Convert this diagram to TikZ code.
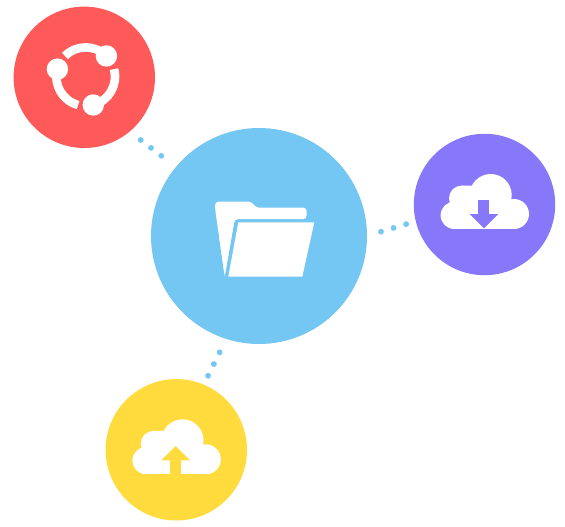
\documentclass[tikz,border=0pt]{standalone}
\usetikzlibrary{calc}
\definecolor{cblue}{HTML}{74C7F2}
\definecolor{cred}{HTML}{FF5A5A}
\definecolor{cpurple}{HTML}{8778FA}
\definecolor{cyellow}{HTML}{FFDB3D}
\tikzset{
  disc/.style={circle,inner sep=0pt,outer sep=0pt,minimum size=#1},
  dotline/.style={cblue,line width=5.8pt,line cap=round,dash pattern=on 0.01pt off #1},
  ringarc/.style={white,line width=8.6pt},
  cloudicon/.pic={
    \fill[white] (29.5,9.5) circle[radius=15pt];
    \fill[white] (-30.2,10.8) circle[radius=13.7pt];
    \fill[white] (-22.8,-6.2) circle[radius=12.7pt];
    \fill[white] (6.2,-9.5) circle[radius=21pt];
    \fill[white] (-30,0) rectangle (29.5,24.5);
    \fill[white] (-22.8,-18.9) -- (-12,-18.9) -- (6,-9) -- (27,-5.5) -- (27,1) -- (-22.8,1) -- cycle;
  }
}
\begin{document}
\begin{tikzpicture}[x=1pt,y=-1pt]
\useasboundingbox (0,0) rectangle (565,527);
% discs
\node[disc=141.4pt,fill=cred] (red) at (84.3,77.3) {};
\node[disc=216pt,fill=cblue] (folder) at (259,236) {};
\node[disc=141.4pt,fill=cpurple] (down) at (484.5,204.5) {};
\node[disc=141.4pt,fill=cyellow] (up) at (176.3,449.8) {};
% dotted connectors
\coordinate (ra) at (140.7,140);
\coordinate (rb) at (161.5,156);
\coordinate (da) at (381,231.7);
\coordinate (db) at (406.5,224);
\coordinate (ua) at (219.7,352.3);
\coordinate (ub) at (208,375.9);
\draw[dotline=12.95pt] (ra) -- (rb);
\draw[dotline=13.1pt] (da) -- (db);
\draw[dotline=13.1pt] (ua) -- (ub);
% ring icon
\coordinate (rc) at (85.7,76.7);
\foreach \a in {15,135,255}{
  \draw[ringarc] ($(rc)+(\a:29.3pt)$) arc[start angle=\a,end angle=\a-90,radius=29.3pt];
  \fill[white] ($(rc)+(\a-90:29.3pt)$) circle[radius=10.7pt];
}
% folder icon
\fill[white,rounded corners=3.5pt] (224.7,276) -- (215,208) -- (215,201.7) -- (252,201.7) -- (255.7,207.7)
   -- (306.7,207.7) -- (306.7,219) -- (234.7,219) -- cycle;
\fill[white] (224.7,276) -- (219,236) -- (234.7,219) -- cycle;
\fill[white] (238.3,222.3) -- (314.3,222.3) -- (302.3,276.7) -- (228.3,276.7) -- cycle;
% clouds
\pic at (down) {cloudicon};
\fill[cpurple] (478.3,200) rectangle (489.3,214.5);
\fill[cpurple] (469.7,214) -- (498.3,214) -- (484,228.3) -- cycle;
\pic at (up) {cloudicon};
\fill[cyellow] (170.3,459) rectangle (181,474.6);
\fill[cyellow] (161.3,460.3) -- (190,460.3) -- (175.7,446) -- cycle;
\end{tikzpicture}
\end{document}
